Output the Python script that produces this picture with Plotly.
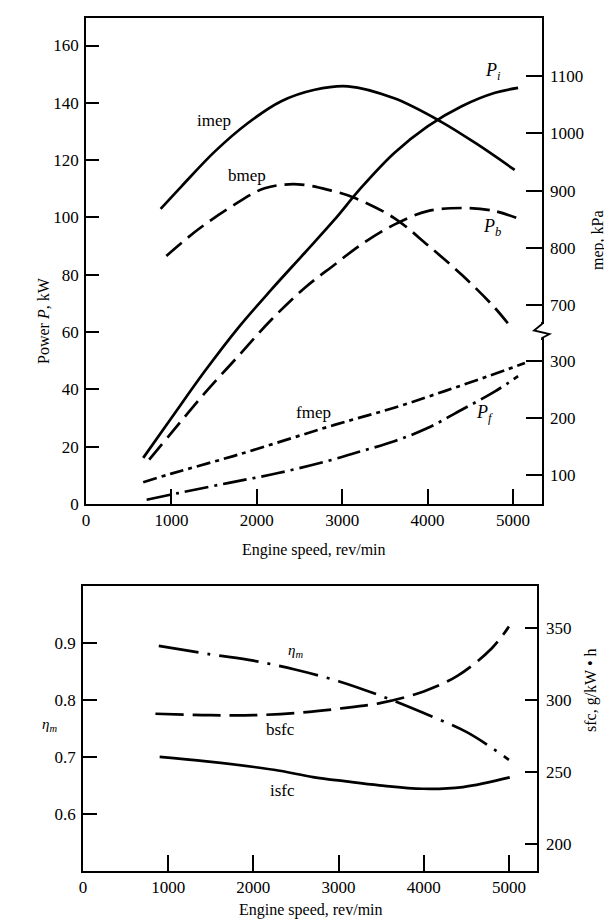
import plotly.graph_objects as go

# ---------------- data (top chart) ----------------
rpm_ticks = [0, 1000, 2000, 3000, 4000, 5000]
kw_ticks = [0, 20, 40, 60, 80, 100, 120, 140, 160]
mep_hi_ticks = [700, 800, 900, 1000, 1100]
mep_lo_ticks = [100, 200, 300]

imep_rpm = [874, 1116, 1507, 1897, 2287, 2678, 3068, 3610, 4160, 4590, 5020]
imep_kpa = [868, 907, 968, 1018, 1056, 1076, 1082, 1061, 1020, 980, 936]

bmep_rpm = [941, 1312, 1702, 2092, 2482, 2870, 3150, 3610, 4000, 4400, 4790, 5000]
bmep_kpa = [786, 832, 872, 904, 911, 900, 887, 852, 805, 753, 695, 657]

fmep_rpm = [670, 1000, 1780, 2910, 3610, 4200, 4710, 5140]
fmep_kpa = [88, 103, 136, 188, 218, 247, 273, 296]

pi_rpm = [670, 1000, 1390, 1780, 2170, 2560, 2910, 3220, 3610, 4000, 4400, 4790, 5060]
pi_kw = [16.1, 30.0, 46.3, 61.4, 74.8, 87.6, 99.2, 110.3, 122.5, 131.8, 138.8, 143.5, 145.2]

pb_rpm = [740, 1000, 1390, 1780, 2170, 2560, 2910, 3220, 3610, 4000, 4400, 4790, 5060]
pb_kw = [15.5, 24.8, 38.7, 51.5, 64.3, 75.4, 83.5, 90.5, 97.5, 102.2, 103.3, 102.2, 99.6]

pf_rpm = [710, 1080, 1660, 2250, 2830, 3220, 3610, 4000, 4400, 4790, 5060]
pf_kw = [1.5, 3.8, 7.3, 10.8, 15.0, 18.4, 21.9, 26.5, 32.9, 39.3, 44.6]

# ---------------- data (bottom chart) ----------------
eta_ticks = [0.6, 0.7, 0.8, 0.9]
sfc_ticks = [200, 250, 300, 350]

eta_rpm = [890, 1500, 2000, 2500, 3000, 3500, 4000, 4500, 4800, 5000]
eta_m = [0.895, 0.880, 0.869, 0.853, 0.833, 0.807, 0.777, 0.744, 0.716, 0.695]

bsfc_rpm = [850, 1500, 2000, 2500, 3000, 3500, 4000, 4400, 4800, 5000]
bsfc = [290.5, 289.5, 289.5, 291, 294, 298, 306, 317, 336, 351]

isfc_rpm = [900, 1450, 2240, 2700, 3090, 3480, 3990, 4460, 5010]
isfc = [260.5, 257.4, 251.6, 246.5, 243.5, 240.8, 238.4, 239.6, 246.3]

# ---------------- figure ----------------
W, H = 612, 923
def px(X):
    return X / W
def py(Y):
    return 1 - Y / H

BLACK = "black"
SERIF = "Liberation Serif"
LW = 2.7

fig = go.Figure()

def add(x, y, xa, ya, dash, name):
    fig.add_trace(go.Scatter(x=x, y=y, xaxis=xa, yaxis=ya, mode="lines", name=name,
                             line=dict(color=BLACK, width=LW, dash=dash, shape="spline", smoothing=1.0),
                             showlegend=False, hoverinfo="skip"))

add(imep_rpm, imep_kpa, "x", "y2", "solid", "imep")
add(bmep_rpm, bmep_kpa, "x", "y2", "20px,8px", "bmep")
add(fmep_rpm, fmep_kpa, "x", "y3", "14px,5px,4px,5px", "fmep")
add(pi_rpm, pi_kw, "x", "y", "solid", "Pi")
add(pb_rpm, pb_kw, "x", "y", "20px,8px", "Pb")
add(pf_rpm, pf_kw, "x", "y", "24px,6px,3px,6px", "Pf")

add(eta_rpm, eta_m, "x2", "y4", "40px,9px,3px,9px", "eta_m")
add(bsfc_rpm, bsfc, "x2", "y5", "28px,9px", "bsfc")
add(isfc_rpm, isfc, "x2", "y5", "solid", "isfc")

tickfont = dict(family=SERIF, size=17, color=BLACK)
common = dict(showgrid=False, zeroline=False, tickfont=tickfont, ticks="inside", automargin=False,
              tickcolor=BLACK, tickwidth=1.8, linecolor=BLACK, linewidth=1.8)

fig.update_layout(
    template="none",
    xaxis=dict(domain=[px(78), px(534)], range=[0, 5340], anchor="y", tickvals=rpm_ticks,
               ticklen=15, showline=True, mirror=True, **common),
    yaxis=dict(domain=[py(496), py(10)], range=[0, 169.6], anchor="x", tickvals=kw_ticks,
               ticklen=13, showline=True, mirror=True, ticklabelstandoff=2, **common),
    yaxis2=dict(overlaying="y", side="right", anchor="x", range=[353, 1201.2],
                tickvals=mep_hi_ticks, ticklen=16, showline=False, ticklabelstandoff=7, **common),
    yaxis3=dict(overlaying="y", side="right", anchor="x", range=[50, 898],
                tickvals=mep_lo_ticks, ticklen=16, showline=False, ticklabelstandoff=7, **common),
    xaxis2=dict(domain=[px(75), px(529)], range=[0, 5330], anchor="y4", tickvals=rpm_ticks,
                ticklen=16, showline=True, mirror=True, **common),
    yaxis4=dict(domain=[py(863), py(578)], range=[0.5, 1.0], anchor="x2", tickvals=eta_ticks,
                ticktext=[f"{v:.1f}" for v in eta_ticks], ticklen=14, showline=True, mirror=True,
                ticklabelstandoff=2, **common),
    yaxis5=dict(overlaying="y4", side="right", anchor="x2", range=[181.3, 379.2],
                tickvals=sfc_ticks, ticklen=12, showline=False, ticklabelstandoff=8, **common),
    width=W, height=H, margin=dict(l=0, r=0, t=0, b=0),
    paper_bgcolor="white", plot_bgcolor="white",
)

# axis break on the mep axis
fig.add_shape(type="rect", xref="paper", yref="paper", x0=px(531), x1=px(537), y0=py(330), y1=py(316),
              fillcolor="white", line=dict(width=0), layer="above")
zig = (f"M {px(534)},{py(314)} L {px(534)},{py(316)} L {px(526)},{py(322.5)} "
       f"L {px(541.5)},{py(326)} L {px(534)},{py(330)} L {px(534)},{py(332)}")
fig.add_shape(type="path", xref="paper", yref="paper", path=zig,
              line=dict(color=BLACK, width=1.8), layer="above")

def note(text, x, y, xref, yref, size=16, angle=0):
    fig.add_annotation(text=text, x=x, y=y, xref=xref, yref=yref, showarrow=False,
                       textangle=angle, font=dict(family=SERIF, size=size, color=BLACK))

# curve labels (top)
note("imep", 1500, 134, "x", "y", size=17)
note("bmep", 1890, 114.5, "x", "y", size=17)
note("fmep", 2660, 31.8, "x", "y", size=17)
note("<i>P<sub>i</sub></i>", 4770, 151, "x", "y", size=18)
note("<i>P<sub>b</sub></i>", 4750, 96.5, "x", "y", size=18)
note("<i>P<sub>f</sub></i>", 4670, 31.5, "x", "y", size=18)

# curve labels (bottom)
note("<i>η<sub>m</sub></i>", 2500, 0.886, "x2", "y4", size=15)
note("bsfc", 2320, 0.748, "x2", "y4", size=17)
note("isfc", 2340, 0.642, "x2", "y4", size=17)

# axis titles
note("Power <i>P</i>, kW", px(25), py(267), "paper", "paper", size=16, angle=-90)
note("mep, kPa", px(601), py(200), "paper", "paper", size=16, angle=-90)
note("Engine speed, rev/min", px(306), py(542), "paper", "paper", size=16)
note("<i>η<sub>m</sub></i>", px(32), py(728), "paper", "paper", size=15)
note("sfc, g/kW • h", px(594), py(726), "paper", "paper", size=16, angle=-90)
note("Engine speed, rev/min", px(303), py(913), "paper", "paper", size=16)

fig.write_html("out.html")
